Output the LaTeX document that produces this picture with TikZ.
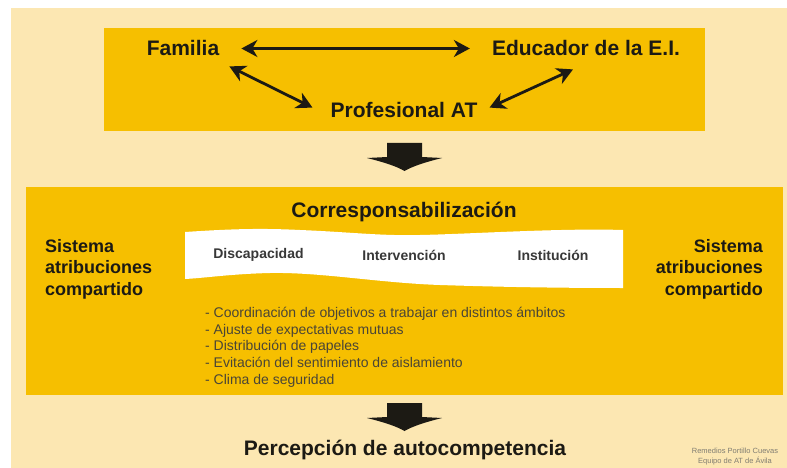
\documentclass[tikz,border=0pt]{standalone}
\usepackage{fontspec}
\setmainfont{Liberation Sans}
\usetikzlibrary{arrows.meta}
\definecolor{crema}{HTML}{FCE7B2}
\definecolor{amarillo}{HTML}{F6BF00}
\definecolor{tinta}{HTML}{1C1A14}
\definecolor{gris}{HTML}{4A4536}
\begin{document}
\begin{tikzpicture}[x=1pt, y=-1pt,
    big/.style={font=\fontsize{21}{25}\selectfont\bfseries, text=tinta, inner sep=0pt, anchor=base},
    side/.style={font=\fontsize{18}{21.5}\selectfont\bfseries, text=tinta, inner sep=0pt},
    band/.style={font=\fontsize{14}{16}\selectfont\bfseries, text=black!78, inner sep=0pt, anchor=base},
    rel/.style={line width=2.8pt, draw=tinta, {Stealth[length=16pt,width=17pt,inset=5pt]}-{Stealth[length=16pt,width=17pt,inset=5pt]}}]
    \useasboundingbox (0,0) rectangle (787,468);
    \fill[white] (0,0) rectangle (787,468);
    \fill[crema] (11,8) rectangle (787,468);
    \fill[amarillo] (104,28) rectangle (705,131);
    \fill[amarillo] (26,187) rectangle (783,395);
    % top triangle
    \node[big] (fam) at (183,56) {Familia};
    \node[big] (edu) at (586,56) {Educador de la E.I.};
    \node[big] (prof) at (404,118) {Profesional AT};
    \draw[rel] ([xshift=22pt]fam.east) -- ([xshift=-22pt]edu.west);
    \draw[rel] ([shift={(10,10)}]fam.south east) -- ([shift={(-18,5)}]prof.north west);
    \draw[rel] ([shift={(-13,13)}]edu.south) -- ([shift={(12,5)}]prof.north east);
    % big arrows down
    \foreach \ya in {143,403} {
        \fill[tinta] (387,\ya) -- (422,\ya) -- (422,{\ya+14}) -- (442,{\ya+15})
            .. controls (426,{\ya+19}) and (413,{\ya+23}) .. (404.5,{\ya+28})
            .. controls (396,{\ya+23}) and (383,{\ya+19}) .. (367,{\ya+15})
            -- (387,{\ya+14}) -- cycle;
    }
    % middle box
    \node[big] (corr) at (404,217) {Corresponsabilización};
    \fill[white] (185,232) .. controls (230,229) and (260,228) .. (300,230)
        .. controls (350,232) and (380,236) .. (420,235)
        .. controls (470,234) and (560,228) .. (623,230)
        -- (623,288) .. controls (560,288) and (500,287) .. (440,285)
        .. controls (380,283) and (320,272) .. (270,273)
        .. controls (230,274) and (205,278) .. (185,279) -- cycle;
    \node[band] (disc) at (258.5,258) {Discapacidad};
    \node[band] (interv) at (404,260) {Intervención};
    \node[band] (inst) at (553,260) {Institución};
    \node[side, align=left, anchor=north west] (sisizq) at (45,239) {Sistema\\atribuciones\\compartido};
    \node[side, align=right, anchor=north east] (sisder) at (763,239) {Sistema\\atribuciones\\compartido};
    \node[font=\fontsize{14}{16.7}\selectfont, text=gris, align=left, anchor=north west, inner sep=0pt] (lista) at (205,307)
        {- Coordinación de objetivos a trabajar en distintos ámbitos\\- Ajuste de expectativas mutuas\\- Distribución de papeles\\- Evitación del sentimiento de aislamiento\\- Clima de seguridad};
    % result
    \node[big] (perc) at (405,455) {Percepción de autocompetencia};
    \node[font=\fontsize{7.5}{9.5}\selectfont, text=gris!70, align=center, inner sep=0pt, anchor=north] (firma) at (735,448)
        {Remedios Portillo Cuevas\\Equipo de AT de Ávila};
\end{tikzpicture}
\end{document}
